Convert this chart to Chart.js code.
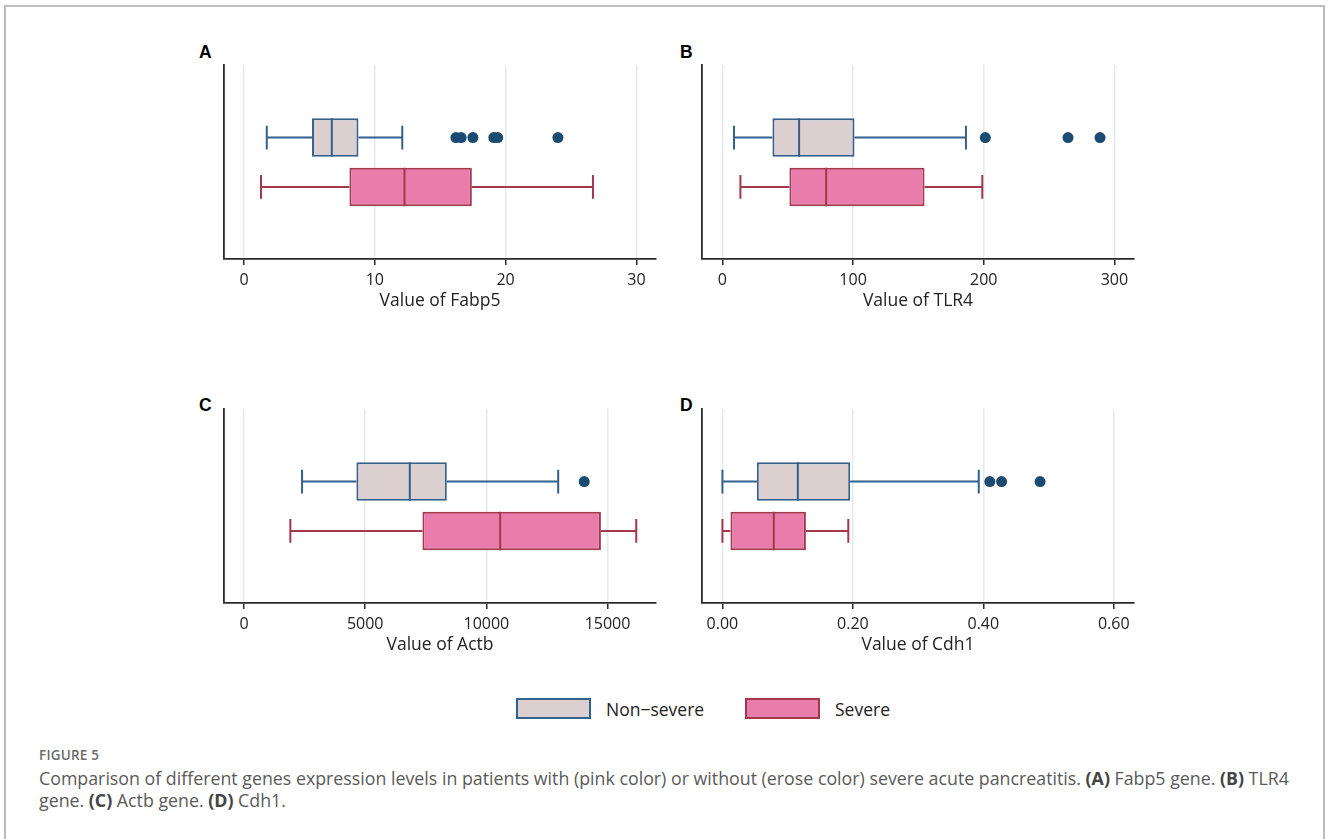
<!DOCTYPE html>
<html>
<head>
<meta charset="utf-8">
<script src="https://cdn.jsdelivr.net/npm/chart.js@4.4.1/dist/chart.umd.min.js"></script>
<style>
  body { margin: 0; background: #fff; width: 1328px; height: 839px; overflow: hidden; position: relative; font-family: 'Open Sans', sans-serif; }
  .frame { position: absolute; left: 4px; top: 5px; width: 1321px; height: 900px; border: 2px solid #bdbdbd; box-sizing: border-box; }
  .panel { position: absolute; width: 480px; height: 282px; }
  .tag { position: absolute; font-family: 'Liberation Sans', Arial, sans-serif; font-weight: bold; font-size: 17.5px; line-height: 17px; color: #000; }
  .leg-box { position: absolute; width: 75px; height: 21px; box-sizing: border-box; border: 2px solid; }
  .leg-txt { position: absolute; font-size: 17.5px; line-height: 22px; color: #222; }
  .fig { position: absolute; left: 39px; top: 746px; font-size: 13.5px; font-weight: 600; color: #6a6a6a; letter-spacing: 0.2px; }
  .cap { position: absolute; left: 39px; top: 767px; font-size: 17.8px; line-height: 22px; color: #5a5a5a; white-space: nowrap; }
  .cap b { font-weight: 700; color: #444; }
</style>
</head>
<body>
<div class="frame"></div>

<div class="tag" style="left:199px;top:44px">A</div>
<div class="tag" style="left:680px;top:44px">B</div>
<div class="tag" style="left:199px;top:397px">C</div>
<div class="tag" style="left:680px;top:397px">D</div>

<div class="panel" style="left:190px;top:30px"><canvas id="chartA"></canvas></div>
<div class="panel" style="left:668px;top:30px"><canvas id="chartB"></canvas></div>
<div class="panel" style="left:190px;top:374px"><canvas id="chartC"></canvas></div>
<div class="panel" style="left:668px;top:374px"><canvas id="chartD"></canvas></div>

<div class="leg-box" style="left:516px;top:698px;background:#dccfcf;border-color:#33618e"></div>
<div class="leg-txt" style="left:606px;top:698px">Non−severe</div>
<div class="leg-box" style="left:745px;top:698px;background:#e87dac;border-color:#a3374d"></div>
<div class="leg-txt" style="left:835px;top:698px">Severe</div>

<div class="fig">FIGURE 5</div>
<div class="cap">Comparison of different genes expression levels in patients with (pink color) or without (erose color) severe acute pancreatitis. <b>(A)</b> Fabp5 gene. <b>(B)</b> TLR4<br>gene. <b>(C)</b> Actb gene. <b>(D)</b> Cdh1.</div>

<script>
// groups drawn top to bottom in each panel
var groups = ['Non−severe', 'Severe'];

// each row: [lower whisker, Q1, median, Q3, upper whisker]
var fabp5Box = [[1.74, 5.2, 6.71, 8.75, 12.1], [1.3, 8.06, 12.27, 17.42, 26.68]];
var fabp5Out = [16.2, 16.6, 17.5, 19.1, 19.4, 24.0];
var fabp5Ticks = [0, 10, 20, 30];

var tlr4Box = [[8.9, 38.3, 58.7, 101.1, 186.4], [13.8, 51.3, 79.4, 154.7, 198.9]];
var tlr4Out = [201.2, 264.5, 289];
var tlr4Ticks = [0, 100, 200, 300];

var actbBox = [[2395, 4637, 6840, 8368, 12964], [1912, 7362, 10570, 14727, 16185]];
var actbOut = [14038];
var actbTicks = [0, 5000, 10000, 15000];

var cdh1Box = [[0.0, 0.0527, 0.1156, 0.1959, 0.393], [0.0, 0.0123, 0.0788, 0.128, 0.193]];
var cdh1Out = [0.410, 0.428, 0.487];
var cdh1Ticks = [0, 0.2, 0.4, 0.6];

var fillColors = ['#dccfcf', '#e87dac'];
var lineColors = ['#33618e', '#a3374d'];
var dotColor = '#1b4a73';
var axisColor = '#2b2b2b';
var gridColor = '#e3ebed';

function makePanel(id, title, boxes, outliers, ticks, decimals, xMin, xMax) {
    var whiskers = {
        id: 'whiskers',
        beforeDatasetsDraw: function (chart) {
            var ctx = chart.ctx, xs = chart.scales.x;
            var bars = chart.getDatasetMeta(0).data;
            ctx.save();
            ctx.lineWidth = 2;
            boxes.forEach(function (b, i) {
                var y = bars[i].y;
                ctx.strokeStyle = lineColors[i];
                ctx.beginPath();
                ctx.moveTo(xs.getPixelForValue(b[0]), y);
                ctx.lineTo(xs.getPixelForValue(b[1]), y);
                ctx.moveTo(xs.getPixelForValue(b[3]), y);
                ctx.lineTo(xs.getPixelForValue(b[4]), y);
                ctx.stroke();
            });
            ctx.restore();
        },
        afterDatasetsDraw: function (chart) {
            var ctx = chart.ctx, xs = chart.scales.x;
            var bars = chart.getDatasetMeta(0).data;
            ctx.save();
            ctx.lineWidth = 2;
            boxes.forEach(function (b, i) {
                var y = bars[i].y, h = bars[i].height;
                var cap = h * 0.31;
                ctx.strokeStyle = lineColors[i];
                ctx.beginPath();
                var xm = xs.getPixelForValue(b[2]);
                ctx.moveTo(xm, y - h / 2);
                ctx.lineTo(xm, y + h / 2);
                [b[0], b[4]].forEach(function (v) {
                    var xc = xs.getPixelForValue(v);
                    ctx.moveTo(xc, y - cap);
                    ctx.lineTo(xc, y + cap);
                });
                ctx.stroke();
            });
            ctx.restore();
        }
    };

    new Chart(document.getElementById(id), {
        type: 'bar',
        data: {
            datasets: [{
                data: boxes.map(function (b, i) { return { x: [b[1], b[3]], y: i + 1 }; }),
                backgroundColor: fillColors,
                borderColor: lineColors,
                borderWidth: 2,
                borderSkipped: false,
                categoryPercentage: 1,
                barPercentage: 0.78
            }, {
                type: 'scatter',
                indexAxis: 'x',
                data: outliers.map(function (v) { return { x: v, y: 1 }; }),
                pointRadius: 5.5,
                pointBackgroundColor: dotColor,
                pointBorderWidth: 0
            }]
        },
        options: {
            indexAxis: 'y',
            responsive: true,
            maintainAspectRatio: false,
            animation: false,
            layout: { padding: { left: 34, top: 35, right: 14, bottom: 0 } },
            plugins: { legend: { display: false }, tooltip: { enabled: false } },
            scales: {
                x: {
                    type: 'linear',
                    min: xMin,
                    max: xMax,
                    afterFit: function (s) { s.height = 53; },
                    afterBuildTicks: function (s) { s.ticks = ticks.map(function (v) { return { value: v }; }); },
                    grid: { color: gridColor, lineWidth: 1.5, tickColor: axisColor, tickLength: 6, tickWidth: 1.5 },
                    border: { display: true, color: axisColor, width: 1.8 },
                    ticks: {
                        padding: 6,
                        color: '#222',
                        font: { family: 'Open Sans', size: 16 },
                        maxRotation: 0,
                        callback: function (v) { return Number(v).toFixed(decimals); }
                    },
                    title: {
                        display: true,
                        text: title,
                        color: '#222',
                        padding: { top: 0, bottom: 0 },
                        font: { family: 'Open Sans', size: 17.5 }
                    }
                },
                y: {
                    type: 'linear',
                    reverse: true,
                    offset: false,
                    min: -0.47,
                    max: 3.46,
                    afterFit: function (s) { s.width = 0; },
                    afterBuildTicks: function (s) { s.ticks = [0, 1, 2, 3].map(function (v) { return { value: v }; }); },
                    grid: { display: true, offset: false, drawOnChartArea: false, drawTicks: false, lineWidth: 0 },
                    border: { display: true, color: axisColor, width: 1.8 },
                    ticks: { display: false }
                }
            }
        },
        plugins: [whiskers]
    });
}

makePanel('chartA', 'Value of Fabp5', fabp5Box, fabp5Out, fabp5Ticks, 0, -1.53, 31.5);
makePanel('chartB', 'Value of TLR4', tlr4Box, tlr4Out, tlr4Ticks, 0, -15.6, 315);
makePanel('chartC', 'Value of Actb', actbBox, actbOut, actbTicks, 0, -826, 17000);
makePanel('chartD', 'Value of Cdh1', cdh1Box, cdh1Out, cdh1Ticks, 2, -0.0313, 0.631);
</script>
</body>
</html>
